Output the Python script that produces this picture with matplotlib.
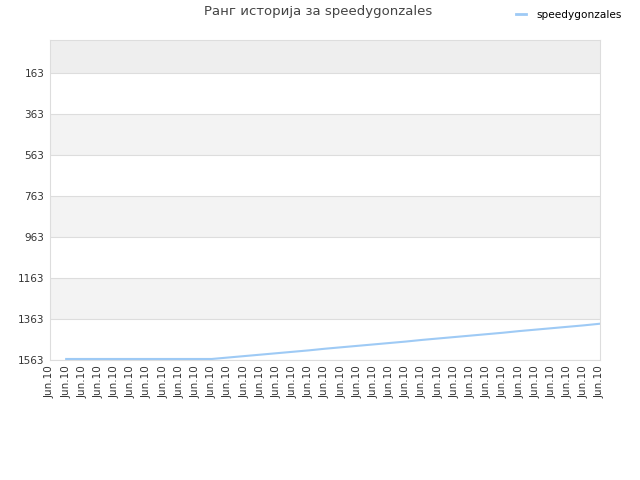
import matplotlib
matplotlib.use("Agg")
import matplotlib.pyplot as plt
from matplotlib.lines import Line2D

x_labels = ["Jun.10"] * 35
x_idx = list(range(1, 35))
ranks = [1558, 1558, 1558, 1558, 1558, 1558, 1558, 1558, 1558, 1558,
         1551, 1544, 1537, 1530, 1523, 1516, 1508, 1501, 1494, 1487,
         1480, 1473, 1465, 1458, 1451, 1444, 1437, 1430, 1422, 1415,
         1408, 1401, 1394, 1386]
y_ticks = [163, 363, 563, 763, 963, 1163, 1363, 1563]
series_name = "speedygonzales"
title = "Ранг историја за speedygonzales"

fig = plt.figure(figsize=(6.4, 4.8), dpi=100)
ax = fig.add_axes([50/640, 1-360/480, 550/640, 320/480])

y_top = 2
y_bottom = 1563
ax.set_ylim(y_bottom, y_top)
ax.set_xlim(0, 34)

# bands
ax.axhspan(y_top, 163, color="#eeeeee", zorder=0, lw=0)
for i in range(len(y_ticks) - 1):
    if i % 2 == 1:
        ax.axhspan(y_ticks[i], y_ticks[i+1], color="#f3f3f3", zorder=0, lw=0)
for t in y_ticks:
    ax.axhline(t, color="#dddddd", lw=0.8, zorder=1)

ax.plot(x_idx, ranks, color="#9ecaf5", lw=1.5, zorder=3, label=series_name)

ax.set_yticks(y_ticks)
ax.set_yticklabels([str(t) for t in y_ticks], fontsize=7.5, color="#333333")
ax.set_xticks(range(35))
ax.set_xticklabels(x_labels, rotation=90, fontsize=7.5, color="#333333")
ax.tick_params(axis="both", length=0, pad=4)
for s in ax.spines.values():
    s.set_color("#dddddd")
    s.set_linewidth(0.8)

fig.text(318/640, 1-12/480, title, ha="center", va="center", fontsize=9.5, color="#444444")
handle = Line2D([], [], color="#9ecaf5", lw=2)
fig.legend(handles=[handle], labels=[series_name], loc="center right",
           bbox_to_anchor=(626/640, 1-15/480), frameon=False, fontsize=7.6,
           handlelength=0.9, handletextpad=1.0, borderaxespad=0)
fig.savefig("out.png", dpi=100)
